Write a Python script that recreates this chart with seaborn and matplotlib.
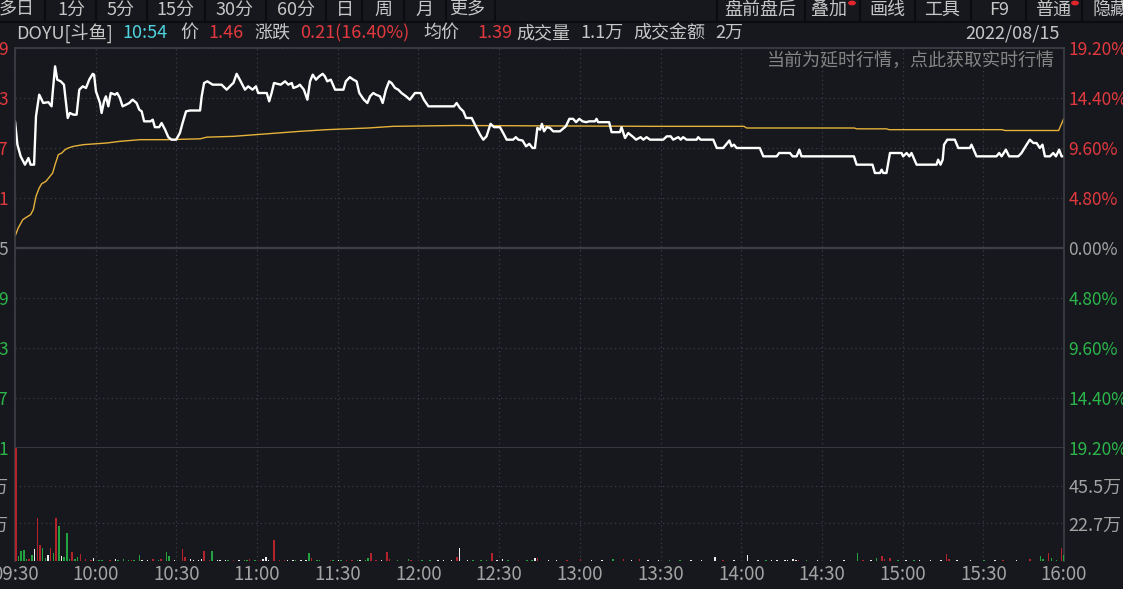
import numpy as np
import pandas as pd
import matplotlib
matplotlib.use("Agg")
import matplotlib.pyplot as plt
from matplotlib.lines import Line2D
from matplotlib.patches import Circle
import seaborn as sns

W, H = 1123, 589

# ---------------------------------------------------------------- data
prev_close = 1.25

# minute since 09:30 -> last price
price_min = [0, 0.9, 2.1, 3.7, 5.0, 5.8, 7.1, 7.8, 9.0, 10.5, 12.4, 13.6, 14.0, 14.9, 15.7, 17.0,
             18.2, 19.6, 20.4, 21.7, 22.9, 23.9, 25.2, 26.4, 27.6, 28.9, 29.4, 30.1, 31.6, 32.2,
             33.1, 33.8, 34.7, 35.6, 37.2, 38.0, 39.0, 40.0, 41.3, 42.5, 43.7, 45.2, 46.2, 47.1,
             48.0, 50.4, 51.2, 52.0, 53.6, 54.5, 55.8, 57.0, 58.2, 59.9, 61.3, 62.3, 63.6, 65.1,
             68.8, 69.4, 70.3, 71.5, 73.5, 76.8, 78.7, 80.5, 81.2, 82.4, 83.9, 85.5, 86.7, 88.3,
             89.6, 90.4, 93.6, 94.5, 95.4, 96.3, 98.8, 100.4, 101.6, 102.9, 103.5, 105.1, 105.9,
             107.4, 108.7, 109.7, 110.7, 111.9, 113.1, 114.4, 115.2, 116.1, 117.4, 119.0, 122.1,
             123.0, 124.5, 125.8, 127.0, 128.0, 129.7, 131.0, 132.0, 133.2, 134.2, 135.7, 136.7,
             137.9, 139.1, 140.0, 141.3, 142.5, 143.7, 145.4, 146.8, 148.7, 150.8, 152.0, 153.7,
             163.2, 164.2, 165.4, 166.7, 167.7, 169.8, 171.0, 172.9, 174.1, 175.3, 176.8, 178.1,
             180.3, 181.5, 182.8, 185.2, 186.2, 187.1, 188.7, 190.0, 191.2, 192.4, 193.3, 194.2,
             195.2, 195.9, 196.7, 197.7, 198.9, 200.1, 202.6, 204.8, 206.1, 207.5, 208.6, 209.8,
             211.0, 212.3, 213.5, 215.6, 216.2, 216.8, 220.9, 221.8, 224.9, 225.5, 226.8, 228.0,
             229.9, 230.9, 232.6, 233.6, 234.8, 236.1, 241.0, 242.3, 243.8, 244.7, 246.6, 247.5,
             248.4, 249.7, 253.4, 254.0, 254.9, 259.6, 260.9, 263.3, 264.3, 265.6, 266.4, 267.3,
             268.3, 276.9, 278.2, 283.2, 284.1, 288.1, 289.1, 290.6, 291.6, 292.4, 311.9, 312.9,
             318.8, 319.7, 321.6, 322.2, 322.8, 324.0, 325.3, 329.6, 330.2, 331.5, 332.5, 333.3,
             335.2, 342.6, 343.2, 344.1, 344.9, 345.4, 346.6, 349.4, 350.7, 355.0, 355.6, 357.5,
             364.9, 365.9, 366.8, 368.4, 369.6, 373.0, 374.2, 376.1, 377.3, 378.6, 379.8, 381.0,
             382.0, 382.9, 384.8, 386.0, 387.0, 388.2, 389.1, 390.0]
price_val = [1.402, 1.374, 1.360, 1.350, 1.358, 1.350, 1.350, 1.408, 1.434, 1.424, 1.425, 1.420,
             1.436, 1.468, 1.452, 1.450, 1.446, 1.406, 1.412, 1.410, 1.410, 1.440, 1.444, 1.442,
             1.452, 1.459, 1.458, 1.438, 1.424, 1.412, 1.426, 1.432, 1.420, 1.436, 1.434, 1.436,
             1.430, 1.420, 1.422, 1.424, 1.428, 1.424, 1.416, 1.414, 1.402, 1.402, 1.404, 1.395,
             1.395, 1.400, 1.392, 1.383, 1.380, 1.380, 1.388, 1.400, 1.414, 1.415, 1.415, 1.432,
             1.448, 1.450, 1.446, 1.446, 1.440, 1.446, 1.448, 1.459, 1.450, 1.440, 1.444, 1.440,
             1.444, 1.436, 1.436, 1.426, 1.436, 1.448, 1.446, 1.450, 1.446, 1.448, 1.442, 1.444,
             1.446, 1.440, 1.428, 1.450, 1.458, 1.452, 1.456, 1.459, 1.456, 1.450, 1.452, 1.440,
             1.440, 1.450, 1.455, 1.452, 1.450, 1.436, 1.428, 1.424, 1.432, 1.436, 1.434, 1.432,
             1.424, 1.440, 1.450, 1.448, 1.442, 1.440, 1.436, 1.432, 1.428, 1.436, 1.436, 1.428,
             1.420, 1.420, 1.424, 1.418, 1.414, 1.406, 1.406, 1.398, 1.386, 1.380, 1.384, 1.399,
             1.395, 1.395, 1.388, 1.380, 1.380, 1.383, 1.380, 1.379, 1.372, 1.375, 1.370, 1.370,
             1.394, 1.392, 1.399, 1.390, 1.395, 1.394, 1.390, 1.390, 1.396, 1.405, 1.405, 1.401,
             1.405, 1.402, 1.401, 1.402, 1.402, 1.405, 1.401, 1.401, 1.389, 1.389, 1.395, 1.382,
             1.388, 1.383, 1.380, 1.383, 1.380, 1.383, 1.380, 1.380, 1.384, 1.384, 1.380, 1.383,
             1.380, 1.383, 1.380, 1.380, 1.383, 1.380, 1.380, 1.370, 1.370, 1.374, 1.379, 1.372,
             1.374, 1.370, 1.370, 1.360, 1.360, 1.364, 1.364, 1.360, 1.360, 1.368, 1.360, 1.360,
             1.350, 1.350, 1.340, 1.340, 1.344, 1.340, 1.340, 1.364, 1.364, 1.360, 1.364, 1.360,
             1.364, 1.350, 1.350, 1.356, 1.350, 1.356, 1.374, 1.380, 1.380, 1.370, 1.370, 1.374,
             1.360, 1.360, 1.364, 1.360, 1.368, 1.360, 1.360, 1.364, 1.374, 1.380, 1.376, 1.376,
             1.370, 1.374, 1.360, 1.360, 1.364, 1.360, 1.368, 1.360, 1.360]

# average price line
avg_min = [0, 1.2, 2.9, 4.3, 5.8, 6.8, 7.8, 9.0, 9.9, 11.5, 13.0, 14.0, 14.9, 16.1, 17.4, 18.6,
           19.8, 21.7, 25.4, 29.7, 34.1, 39.0, 46.5, 56.4, 68.8, 71.3, 81.2, 93.6, 105.9, 115.9,
           131.3, 140.6, 164.2, 237, 271, 272, 312, 313, 324, 325, 367, 368, 388, 390]
avg_val = [1.264, 1.274, 1.284, 1.287, 1.290, 1.296, 1.312, 1.322, 1.327, 1.330, 1.336, 1.340,
           1.350, 1.362, 1.364, 1.368, 1.370, 1.372, 1.374, 1.375, 1.376, 1.378, 1.380, 1.380,
           1.381, 1.383, 1.384, 1.387, 1.390, 1.392, 1.394, 1.396, 1.397, 1.396, 1.396, 1.394,
           1.394, 1.393, 1.393, 1.392, 1.392, 1.391, 1.391, 1.406]

# volume bars (万 shares); direction r = up tick, g = down tick, w = unchanged
vol_min = [0, 1, 2, 3, 4, 5, 6, 7, 8, 9,
           10, 11, 12, 13, 14, 15, 16, 17, 18, 19,
           20, 21, 22, 23, 24, 26, 28, 29, 31, 32,
           35, 37, 38, 40, 42, 43, 44, 46, 47, 49,
           51, 53, 54, 56, 57, 59, 62, 63, 65, 66,
           68, 69, 70, 72, 73, 75, 76, 78, 79, 81,
           83, 85, 86, 87, 89, 91, 92, 93, 94, 96,
           98, 100, 101, 103, 104, 106, 108, 109, 110, 112,
           113, 117, 118, 120, 121, 123, 125, 127, 128, 130,
           131, 132, 134, 136, 138, 139, 142, 146, 147, 151,
           154, 157, 159, 162, 164, 165, 168, 170, 173, 175,
           177, 179, 181, 183, 187, 190, 192, 193, 194, 198,
           201, 205, 210, 214, 218, 222, 226, 229, 232, 235,
           239, 243, 247, 251, 255, 260, 263, 267, 272, 276,
           279, 281, 283, 286, 287, 289, 290, 291, 294, 298,
           303, 308, 313, 315, 318, 320, 322, 323, 325, 328,
           331, 334, 336, 340, 344, 346, 347, 350, 355, 360,
           364, 367, 372, 377, 381, 382, 384, 385, 387, 388.8,
           389.5]
vol_val = [68.2, 3.0, 6.0, 6.6, 1.5, 1.5, 3.6, 7.2, 25.8, 9.6,
           7.8, 1.8, 3.6, 7.8, 4.8, 26.0, 21.0, 3.0, 2.4, 17.0,
           1.5, 5.4, 1.0, 2.4, 4.2, 1.0, 0.8, 1.6, 0.8, 0.8,
           0.8, 1.2, 0.8, 1.2, 0.8, 0.6, 0.8, 3.6, 0.6, 0.6,
           1.2, 0.6, 1.2, 5.6, 3.0, 0.6, 7.2, 2.6, 1.0, 0.6,
           0.8, 1.2, 6.0, 0.8, 6.0, 0.6, 0.6, 0.6, 0.6, 0.8,
           0.8, 0.6, 0.6, 1.0, 0.6, 0.6, 1.4, 2.6, 0.8, 12.7,
           0.8, 0.6, 0.6, 0.6, 0.6, 0.6, 0.8, 4.6, 1.6, 0.6,
           0.6, 0.8, 0.6, 0.6, 0.6, 0.8, 0.8, 0.6, 0.6, 0.6,
           1.6, 5.0, 0.8, 0.6, 5.6, 1.0, 0.8, 1.0, 0.8, 0.6,
           0.6, 0.6, 0.6, 0.8, 2.5, 8.0, 0.8, 0.8, 0.6, 0.6,
           5.0, 0.6, 1.4, 0.6, 0.6, 0.6, 0.6, 1.6, 1.8, 0.6,
           0.6, 0.6, 1.2, 0.6, 0.6, 1.0, 1.2, 0.6, 1.2, 0.6,
           0.6, 0.6, 0.6, 0.6, 0.6, 2.6, 0.6, 0.6, 3.6, 0.6,
           0.6, 0.8, 0.6, 0.6, 0.8, 1.0, 0.6, 0.6, 0.6, 0.6,
           0.6, 0.8, 5.0, 0.8, 0.8, 1.6, 3.0, 1.0, 2.0, 0.8,
           0.6, 0.8, 0.6, 0.6, 0.6, 4.2, 1.0, 0.6, 0.6, 0.6,
           0.6, 0.8, 0.6, 1.0, 3.0, 1.4, 5.0, 2.0, 0.8, 7.6,
           3.4]
vol_dir = ["r", "g", "g", "g", "g", "r", "g", "w", "r", "r",
           "g", "g", "w", "r", "g", "r", "g", "w", "g", "g",
           "g", "r", "g", "g", "r", "r", "r", "w", "g", "g",
           "r", "w", "g", "g", "g", "r", "g", "g", "w", "w",
           "r", "g", "r", "g", "g", "w", "r", "r", "w", "w",
           "w", "w", "r", "r", "g", "w", "w", "w", "g", "r",
           "w", "g", "g", "r", "g", "r", "w", "w", "w", "r",
           "r", "r", "w", "w", "g", "w", "w", "g", "r", "g",
           "g", "r", "g", "w", "g", "r", "r", "g", "w", "g",
           "g", "r", "r", "w", "r", "r", "g", "g", "r", "g",
           "g", "w", "w", "w", "r", "w", "w", "g", "g", "g",
           "r", "w", "w", "g", "r", "g", "g", "w", "r", "w",
           "w", "r", "r", "w", "w", "g", "r", "w", "r", "w",
           "w", "g", "g", "w", "w", "w", "r", "w", "w", "w",
           "g", "w", "w", "w", "w", "w", "w", "r", "g", "w",
           "w", "w", "g", "r", "w", "g", "r", "r", "r", "g",
           "w", "g", "w", "w", "w", "r", "r", "w", "w", "g",
           "w", "r", "w", "r", "g", "g", "r", "g", "g", "r",
           "g"]

time_ticks = list(range(0, 391, 30))
time_labels = ["09:30", "10:00", "10:30", "11:00", "11:30", "12:00", "12:30",
               "13:00", "13:30", "14:00", "14:30", "15:00", "15:30", "16:00"]
price_ticks = [1.49, 1.43, 1.37, 1.31, 1.25, 1.19, 1.13, 1.07, 1.01]
vol_ticks = [22.7, 45.5]
vol_tick_labels = ["22.7万", "45.5万"]
vol_max = 68.2

toolbar_left = [("多日", 17), ("1分", 71), ("5分", 121), ("15分", 175), ("30分", 235),
                ("60分", 296), ("日", 345), ("周", 383), ("月", 424), ("更多", 467)]
toolbar_right = [("盘前盘后", 760), ("叠加", 829), ("画线", 887), ("工具", 942),
                 ("F9", 999), ("普通", 1053)]
toolbar_seps = [45, 96, 147, 205, 266, 326, 362, 404, 446, 495,
                717, 805, 860, 915, 971, 1026, 1082]

# ---------------------------------------------------------------- style
BG = "#16181d"
GRID = "#3a3d44"
FRAME = "#3c3f46"
GRAY = "#c6c6c6"
AXGRAY = "#a3a3a3"
RED = "#e2393f"
GREEN = "#2bb54a"
CYAN = "#4fd3df"
BAR_COL = {"r": "#b3232b", "g": "#22a33f", "w": "#eeeeee"}

sns.set_theme(style="dark", rc={"figure.facecolor": BG, "axes.facecolor": BG,
                                "savefig.facecolor": BG, "axes.edgecolor": FRAME})
plt.rcParams["font.family"] = ["Noto Sans CJK SC", "DejaVu Sans"]
FS = 13


def fx(x):
    return x / W


def fy(y):
    return 1 - y / H


fig = plt.figure(figsize=(W / 100, H / 100), dpi=100)

ax = fig.add_axes([fx(15), fy(448), 1049 / W, 400 / H])
axv = fig.add_axes([fx(15), fy(561), 1049 / W, 113 / H])

price_df = pd.DataFrame({"minute": price_min, "price": price_val})
avg_df = pd.DataFrame({"minute": avg_min, "price": avg_val})
vol_df = pd.DataFrame({"minute": vol_min, "vol": vol_val, "dir": vol_dir})

# price panel
sns.lineplot(data=avg_df, x="minute", y="price", ax=ax, color="#e6b23a", lw=1.0,
             estimator=None, sort=False)
sns.lineplot(data=price_df, x="minute", y="price", ax=ax, color="white", lw=1.7,
             estimator=None, sort=False)
ax.set_xlim(0, 390)
ax.set_ylim(1.01, 1.49)
ax.set_xlabel("")
ax.set_ylabel("")
ax.set_xticks(time_ticks)
ax.set_xticklabels([])
ax.set_yticks(price_ticks)
price_cols = [RED if p > prev_close + 1e-9 else (GREEN if p < prev_close - 1e-9 else AXGRAY)
              for p in price_ticks]
ax.set_yticklabels([f"{p:.2f}" for p in price_ticks], fontsize=12.5)
for lbl, c in zip(ax.get_yticklabels(), price_cols):
    lbl.set_color(c)
ax.tick_params(axis="x", length=0)
ax.tick_params(axis="y", length=0, pad=4.5)
ax.grid(True, color=GRID, ls=(0, (1, 2.5)), lw=0.9)
ax.axhline(prev_close, color=FRAME, lw=1.6)
for s in ["top", "left", "right", "bottom"]:
    ax.spines[s].set_color(FRAME)
    ax.spines[s].set_linewidth(1.2)

ax2 = ax.twinx()
ax2.set_ylim(1.01, 1.49)
ax2.set_yticks(price_ticks)
ax2.set_yticklabels([f"{abs(p - prev_close) / prev_close * 100:.2f}%" for p in price_ticks],
                    fontsize=12.5)
for lbl, c in zip(ax2.get_yticklabels(), price_cols):
    lbl.set_color(c)
ax2.tick_params(axis="y", length=0, pad=3)
ax2.grid(False)
for s in ax2.spines.values():
    s.set_visible(False)

ax.text(1040 / 1049, 1 - 13 / 400, "当前为延时行情，点此获取实时行情", transform=ax.transAxes,
        ha="right", va="center", color="#858585", fontsize=FS)

# volume panel (opening bar drawn a bit wider so it shows beside the frame)
bar_w = [0.9 if m == 0 else 0.55 for m in vol_df["minute"]]
axv.bar(vol_df["minute"], vol_df["vol"], width=bar_w, align="edge", linewidth=0,
        color=[BAR_COL[d] for d in vol_df["dir"]], zorder=3, clip_on=False)
axv.set_xlim(0, 390)
axv.set_ylim(0, vol_max)
axv.set_xticks(time_ticks)
axv.set_xticklabels(time_labels, fontsize=13.5, color=AXGRAY)
axv.set_yticks(vol_ticks)
axv.set_yticklabels(vol_tick_labels, fontsize=FS, color=AXGRAY)
axv.tick_params(axis="y", length=0, pad=4.5)
axv.tick_params(axis="x", length=0, pad=2)
axv.grid(True, color=GRID, ls=(0, (1, 2.5)), lw=0.9)
axv.spines["top"].set_visible(False)
axv.spines["bottom"].set_visible(False)
for s in ["left", "right"]:
    axv.spines[s].set_color(FRAME)
    axv.spines[s].set_linewidth(1.2)
    axv.spines[s].set_zorder(1)

axv2 = axv.twinx()
axv2.set_ylim(0, vol_max)
axv2.set_yticks(vol_ticks)
axv2.set_yticklabels(vol_tick_labels, fontsize=FS, color=AXGRAY)
axv2.tick_params(axis="y", length=0, pad=3)
axv2.grid(False)
for s in axv2.spines.values():
    s.set_visible(False)

# toolbar
fig.add_artist(Line2D([0, 1], [fy(21.5), fy(21.5)], color="#0b0c0f", lw=1.5))
for x in toolbar_seps:
    fig.add_artist(Line2D([fx(x), fx(x)], [fy(0), fy(21)], color="#0b0c0f", lw=1.5))
for txt, x in toolbar_left + toolbar_right:
    fig.text(fx(x), fy(10), txt, ha="center", va="center", color=GRAY, fontsize=FS)
fig.text(fx(1093), fy(10), "隐藏", ha="left", va="center", color=GRAY, fontsize=FS)
for x in [852, 1075]:
    fig.add_artist(Circle((fx(x), fy(3)), 3.2 / W, color="#e0262b",
                          transform=fig.transFigure))

# header line
header = [("DOYU[斗鱼]", 16, GRAY), ("10:54", 122, CYAN), ("价", 180, GRAY), ("1.46", 208, RED),
          ("涨跌", 254, GRAY), ("0.21(16.40%)", 300, RED), ("均价", 423, GRAY),
          ("1.39", 477, RED), ("成交量", 516, GRAY), ("1.1万", 580, GRAY),
          ("成交金额", 633, GRAY), ("2万", 715, GRAY)]
for txt, x, c in header:
    fig.text(fx(x), fy(33), txt, ha="left", va="center", color=c, fontsize=FS)
fig.text(fx(1060), fy(33), "2022/08/15", ha="right", va="center", color=GRAY, fontsize=FS)

fig.savefig("out.png", dpi=100, facecolor=BG)
